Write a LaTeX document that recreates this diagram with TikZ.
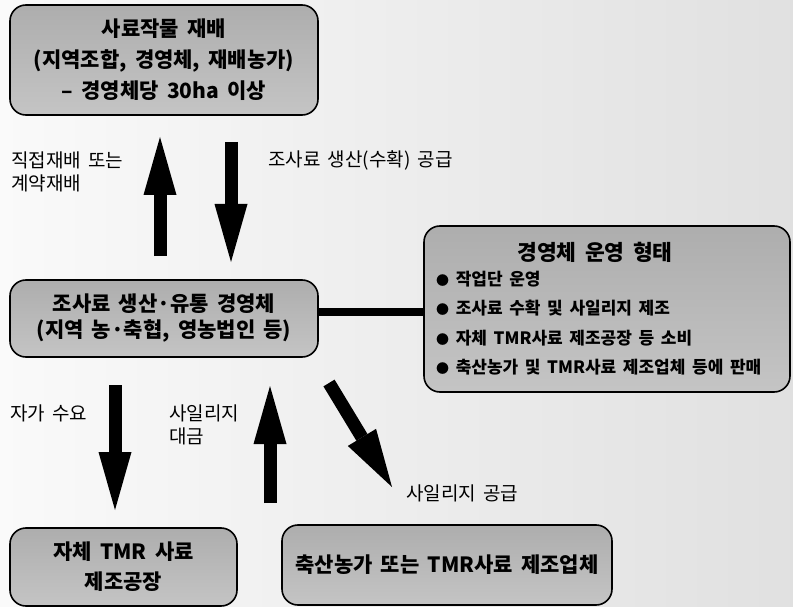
\documentclass[tikz,border=0pt]{standalone}
\usepackage{fontspec}
\setmainfont{Noto Sans CJK KR}[WordSpace=1.7]
\usetikzlibrary{arrows.meta}
\newcommand{\bul}{{\fontsize{13}{13}\selectfont●}}
\begin{document}
\begin{tikzpicture}[x=1pt,y=-1pt,
  box/.style={draw=black, line width=1.6pt, rounded corners=16pt, top color=gray!64, bottom color=gray!46, inner sep=0pt, align=center, font=\bfseries\fontsize{21}{31}\selectfont},
  lbl/.style={font=\fontsize{19}{23}\selectfont, align=left, inner sep=0pt},
  blockarrow/.style={draw=black, line width=13pt, -{Triangle[length=58pt,width=33pt,line width=0pt]}},
  linkline/.style={draw=black, line width=8pt}]
\useasboundingbox (0,0) rectangle (793,607);
\shade[left color=gray!4, right color=gray!24] (0,0) rectangle (793,607);

% boxes
\node[box, minimum width=308pt, minimum height=110pt] (crop) at (164,60) {사료작물 재배\\(지역조합, 경영체, 재배농가)\\– 경영체당 30ha 이상};
\node[box, minimum width=308pt, minimum height=77pt, font=\bfseries\fontsize{21}{26}\selectfont] (org) at (164,318.5) {조사료 생산·유통 경영체\\(지역 농·축협, 영농법인 등)};
\node[box, minimum width=366pt, minimum height=166pt] (form) at (607,309) {};
\node[inner sep=0pt, font=\bfseries\fontsize{21.5}{24}\selectfont] (formtitle) at (595,252) {경영체 운영 형태};
\node[anchor=west, inner sep=0pt, align=left, font=\bfseries\fontsize{17}{29.5}\selectfont] (formlist) at (436,323) {\bul{} 작업단 운영\\\bul{} 조사료 수확 및 사일리지 제조\\\bul{} 자체 TMR사료 제조공장 등 소비\\\bul{} 축산농가 및 TMR사료 제조업체 등에 판매};
\node[box, minimum width=227pt, minimum height=78pt, font=\bfseries\fontsize{21}{30}\selectfont] (factory) at (123.5,567) {자체 TMR 사료\\제조공장};
\node[box, minimum width=330pt, minimum height=80pt] (buyer) at (447,565) {축산농가 또는 TMR사료 제조업체};

% labels
\node[lbl, anchor=west] (l1) at (11,171.5) {직접재배 또는\\계약재배};
\node[lbl, anchor=west] (l2) at (268,160) {조사료 생산(수확) 공급};
\node[lbl, anchor=west] (l3) at (10,413) {자가 수요};
\node[lbl, anchor=west] (l4) at (169,424.5) {사일리지\\대금};
\node[lbl, anchor=west] (l5) at (406,493) {사일리지 공급};

% arrows
\coordinate (a1s) at (160,256); \coordinate (a1e) at (160,137);
\coordinate (a2s) at (231,142); \coordinate (a2e) at (231,262);
\coordinate (a3s) at (115,385); \coordinate (a3e) at (115,510);
\coordinate (a4s) at (270,503); \coordinate (a4e) at (270,386);
\coordinate (a5s) at (329,383); \coordinate (a5e) at (392,487);
\draw[blockarrow] (a1s) -- (a1e);
\draw[blockarrow] (a2s) -- (a2e);
\draw[blockarrow] (a3s) -- (a3e);
\draw[blockarrow] (a4s) -- (a4e);
\draw[blockarrow] (a5s) -- (a5e);

% link
\coordinate (lnk) at ([yshift=6.5pt]org.east);
\draw[linkline] (lnk) -- (lnk -| form.west);
\end{tikzpicture}
\end{document}
